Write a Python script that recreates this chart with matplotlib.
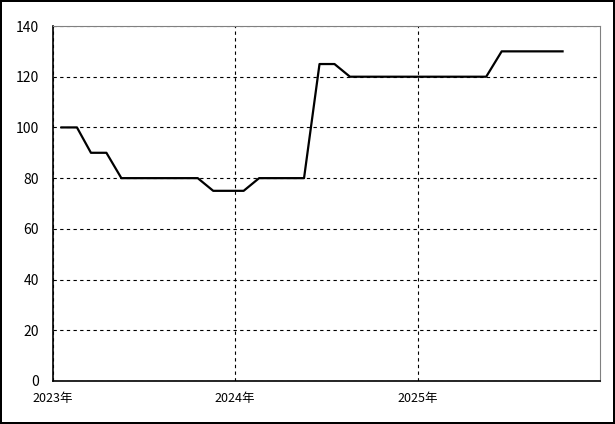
import numpy as np
import matplotlib
matplotlib.use("Agg")
from matplotlib import pyplot as plt
from datetime import date

plt.rcParams['font.family'] = ['Noto Sans CJK JP', 'DejaVu Sans']

# monthly values, plotted mid-month
months = ['2023-01', '2023-02', '2023-03', '2023-04', '2023-05', '2023-06',
          '2023-07', '2023-08', '2023-09', '2023-10', '2023-11', '2023-12',
          '2024-01', '2024-02', '2024-03', '2024-04', '2024-05', '2024-06',
          '2024-07', '2024-08', '2024-09', '2024-10', '2024-11', '2024-12',
          '2025-01', '2025-02', '2025-03', '2025-04', '2025-05', '2025-06',
          '2025-07', '2025-08', '2025-09', '2025-10']
values = [100, 100, 90, 90, 80, 80, 80, 80, 80, 80, 75, 75,
          75, 80, 80, 80, 80, 125, 125, 120, 120, 120, 120, 120,
          120, 120, 120, 120, 120, 130, 130, 130, 130, 130]
years = [2023, 2024, 2025]
y_ticks = [0, 20, 40, 60, 80, 100, 120, 140]

x = [date(int(m[:4]), int(m[5:]), 18) for m in months]

fig = plt.figure(figsize=(6.15, 4.24), dpi=100)
fig.patch.set_edgecolor('black')
fig.patch.set_linewidth(1.5)
ax = fig.add_axes([53/615, 43/424, 547/615, 355/424])

ax.plot(x, values, color='black', lw=1.6)

ax.set_xlim(date(2023, 1, 1), date(2026, 1, 1))
ax.set_ylim(0, 140)
ax.set_xticks([date(y, 1, 1) for y in years])
ax.set_xticklabels([f'{y}年' for y in years], fontsize=9)
ax.set_yticks(y_ticks)
ax.set_yticklabels([str(v) for v in y_ticks], fontsize=10)
ax.tick_params(length=0)
ax.tick_params(axis='x', pad=8)
ax.tick_params(axis='y', pad=10)

ax.grid(True, color='black', linestyle=(0, (3, 3)), lw=0.8)
ax.spines['top'].set_color('gray')
ax.spines['right'].set_color('gray')
for s in ['left', 'bottom']:
    ax.spines[s].set_color('black')
    ax.spines[s].set_linewidth(1.2)

fig.savefig('out.png', dpi=100, edgecolor=fig.get_edgecolor())
